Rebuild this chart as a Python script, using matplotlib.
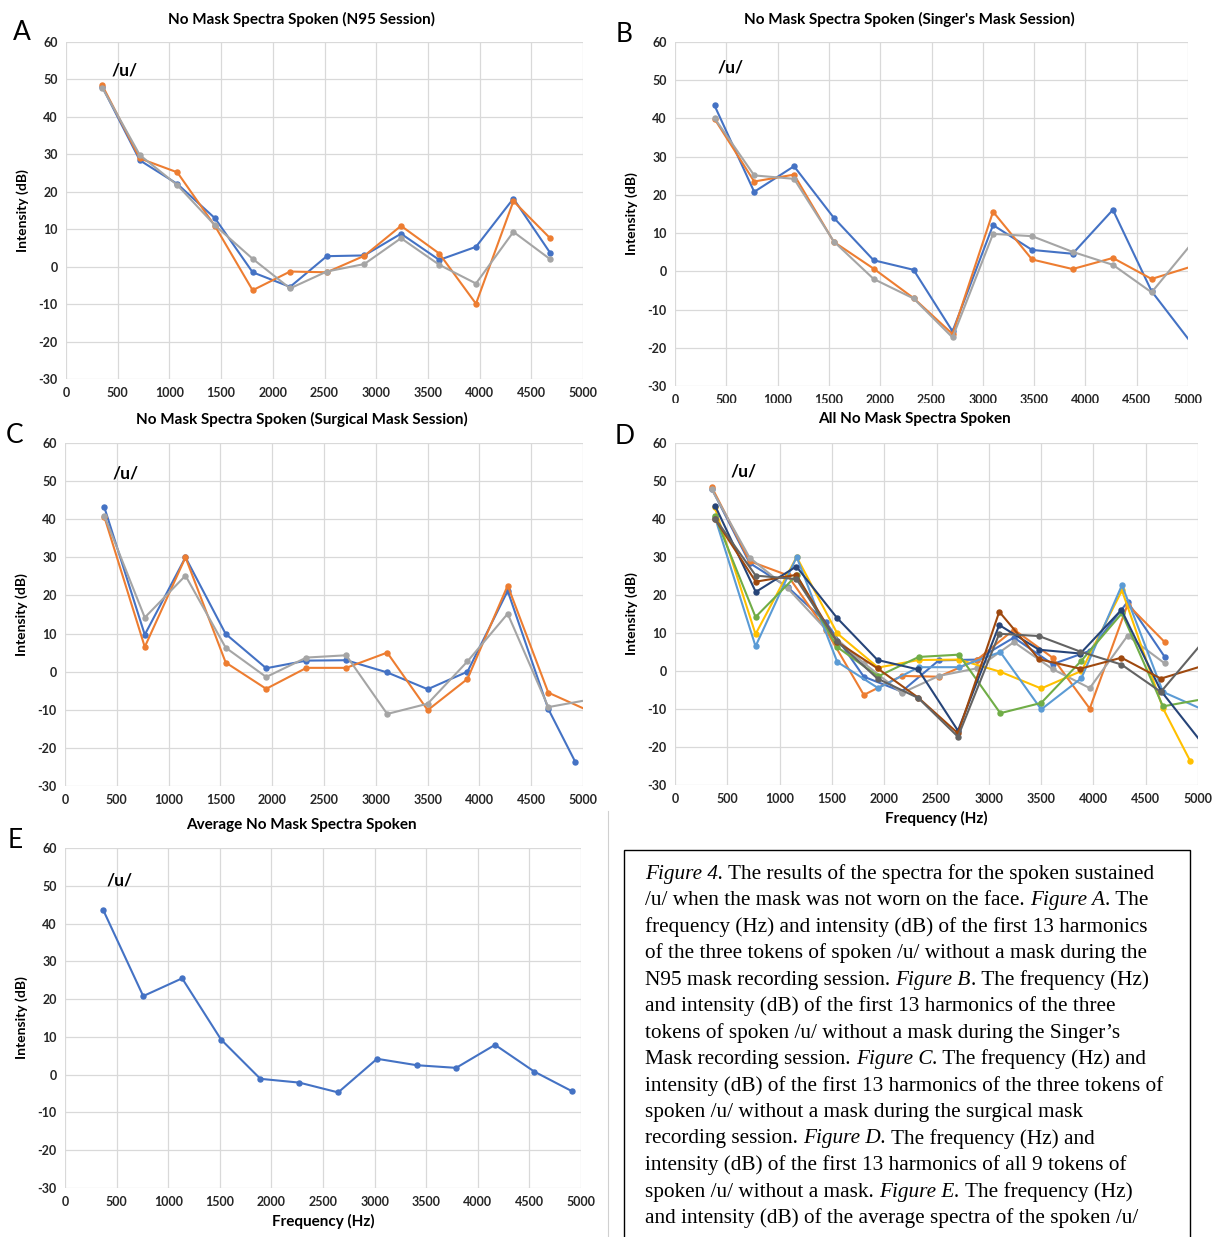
import matplotlib
matplotlib.use("Agg")
import matplotlib.pyplot as plt
from matplotlib.lines import Line2D
from matplotlib.patches import Rectangle

plt.rcParams["axes.unicode_minus"] = False

# harmonic frequencies (Hz) and intensities (dB)
A_freq = [351, 714, 1076, 1442, 1805, 2167, 2522, 2885, 3240, 3610, 3965, 4327, 4682]
A_tok1 = [48.0, 28.4, 22.1, 12.9, -1.5, -5.4, 2.8, 3.0, 8.8, 1.8, 5.3, 18.2, 3.7]
A_tok2 = [48.4, 28.9, 25.2, 10.8, -6.3, -1.3, -1.5, 2.9, 10.9, 3.5, -9.9, 17.5, 7.6]
A_tok3 = [47.8, 29.8, 21.8, 11.0, 2.1, -5.8, -1.3, 0.7, 7.6, 0.5, -4.5, 9.3, 2.0]

B_freq = [385, 772, 1160, 1548, 1936, 2325, 2705, 3100, 3480, 3875, 4268, 4645, 5040]
B_tok1 = [43.4, 20.8, 27.5, 14.0, 2.9, 0.4, -15.7, 12.1, 5.6, 4.6, 16.1, -5.2, -19.0]
B_tok2 = [39.9, 23.5, 25.3, 7.7, 0.7, -7.0, -16.4, 15.6, 3.1, 0.6, 3.5, -2.0, 1.3]
B_tok3 = [40.1, 25.1, 24.2, 7.8, -2.0, -7.1, -17.3, 9.8, 9.2, 5.1, 1.7, -5.5, 7.4]

C_freq = [380, 770, 1163, 1551, 1942, 2330, 2714, 3110, 3501, 3885, 4273, 4665, 5050]
C_freq_tok1 = [380, 770, 1163, 1551, 1942, 2330, 2714, 3110, 3501, 3885, 4273, 4665, 4926]
C_tok1 = [43.1, 9.7, 30.0, 9.9, 0.9, 2.9, 3.0, -0.2, -4.6, 0.0, 21.2, -9.8, -23.7]
C_tok2 = [40.6, 6.5, 30.0, 2.4, -4.5, 1.0, 1.0, 5.0, -10.1, -1.9, 22.6, -5.5, -10.2]
C_tok3 = [40.9, 14.2, 25.2, 6.3, -1.4, 3.7, 4.3, -11.1, -8.4, 2.7, 15.2, -9.3, -7.4]

E_freq = [370, 758, 1135, 1512, 1893, 2270, 2647, 3024, 3409, 3790, 4167, 4548, 4914]
E_avg = [43.6, 20.8, 25.5, 9.3, -1.1, -2.1, -4.7, 4.2, 2.5, 1.8, 7.9, 0.8, -4.4]

xticks = list(range(0, 5001, 500))
yticks = list(range(-30, 61, 10))

blue, orange, gray = "#4472C4", "#ED7D31", "#A5A5A5"
gold, lblue, green = "#FFC000", "#5B9BD5", "#70AD47"
dblue, brown, dgray = "#264478", "#9E480E", "#636363"

W, H = 1212, 1237
fig = plt.figure(figsize=(W / 100, H / 100), dpi=100)
font = "Lato"


def make_ax(left, right, top, bottom, title, tx, ty, letter, lx, ly, ux, uy, xlabel=False):
    ax = fig.add_axes([left / W, 1 - bottom / H, (right - left) / W, (bottom - top) / H])
    ax.set_xlim(0, 5000)
    ax.set_ylim(-30, 60)
    ax.set_xticks(xticks)
    ax.set_yticks(yticks)
    ax.grid(True, color="#D9D9D9", lw=0.9)
    ax.set_axisbelow(True)
    for s in ax.spines.values():
        s.set_visible(False)
    ax.tick_params(length=0, labelsize=9, pad=6)
    for lab in ax.get_xticklabels() + ax.get_yticklabels():
        lab.set_fontweight("bold")
        lab.set_fontfamily(font)
        lab.set_color("#262626")
    ax.set_ylabel("Intensity (dB)", fontsize=10, fontweight="bold", family=font, labelpad=7)
    if xlabel:
        ax.set_xlabel("Frequency (Hz)", fontsize=11, fontweight="bold", family=font, labelpad=4)
    fig.text(tx / W, 1 - ty / H, title, fontsize=11, fontweight="bold", family=font,
             ha="center", va="center")
    ax.text(ux, uy, "/u/", fontsize=12.5, fontweight="bold", family=font, ha="center", va="center")
    fig.text(lx / W, 1 - ly / H, letter, fontsize=19, family=font, ha="center", va="center")
    return ax


def series(ax, x, y, c):
    ax.plot(x, y, color=c, lw=1.5, marker="o", ms=3.6, mec=c, mfc=c)


axA = make_ax(66, 583, 42, 379, "No Mask Spectra Spoken (N95 Session)", 302, 19,
              "A", 22, 33, 570, 52.5)
series(axA, A_freq, A_tok1, blue)
series(axA, A_freq, A_tok2, orange)
series(axA, A_freq, A_tok3, gray)

axB = make_ax(675, 1188, 42, 386, "No Mask Spectra Spoken (Singer's Mask Session)", 909, 19,
              "B", 624, 35, 546, 53.2)
series(axB, B_freq, B_tok1, blue)
series(axB, B_freq, B_tok2, orange)
series(axB, B_freq, B_tok3, gray)

axC = make_ax(65, 583, 443, 786, "No Mask Spectra Spoken (Surgical Mask Session)", 302, 419,
              "C", 15, 435, 580, 52.1)
series(axC, C_freq_tok1, C_tok1, blue)
series(axC, C_freq, C_tok2, orange)
series(axC, C_freq, C_tok3, gray)

axD = make_ax(675, 1198, 443, 785, "All No Mask Spectra Spoken", 914, 419,
              "D", 625, 437, 660, 52.6, xlabel=True)
series(axD, A_freq, A_tok1, blue)
series(axD, A_freq, A_tok2, orange)
series(axD, A_freq, A_tok3, gray)
series(axD, C_freq_tok1, C_tok1, gold)
series(axD, C_freq, C_tok2, lblue)
series(axD, C_freq, C_tok3, green)
series(axD, B_freq, B_tok1, dblue)
series(axD, B_freq, B_tok2, brown)
series(axD, B_freq, B_tok3, dgray)

axE = make_ax(65, 581, 848, 1188, "Average No Mask Spectra Spoken", 301, 825,
              "E", 15, 840, 533, 51.5, xlabel=True)
series(axE, E_freq, E_avg, blue)

# B's tick labels are cut off by the panel below
fig.add_artist(Rectangle((610 / W, 1 - 412 / H), 602 / W, 9 / H, transform=fig.transFigure,
                         facecolor="white", edgecolor="none", zorder=10))

# thin separator and caption box
fig.add_artist(Line2D([608 / W, 608 / W], [0, 1 - 811 / H], transform=fig.transFigure,
                      color="#D0D0D0", lw=0.8))
fig.add_artist(Rectangle((624 / W, -0.01), (1190 - 624) / W, 0.01 + (H - 850) / H,
                         transform=fig.transFigure, facecolor="white", edgecolor="black", lw=1.0))

caption = [
    [("Figure 4.", True), (" The results of the spectra for the spoken sustained", False)],
    [("/u/ when the mask was not worn on the face. ", False), ("Figure A", True), (". The", False)],
    [("frequency (Hz) and intensity (dB) of the first 13 harmonics", False)],
    [("of the three tokens of spoken /u/ without a mask during the", False)],
    [("N95 mask recording session. ", False), ("Figure B", True), (". The frequency (Hz)", False)],
    [("and intensity (dB) of the first 13 harmonics of the three", False)],
    [("tokens of spoken /u/ without a mask during the Singer\u2019s", False)],
    [("Mask recording session. ", False), ("Figure C", True), (". The frequency (Hz) and", False)],
    [("intensity (dB) of the first 13 harmonics of the three tokens of", False)],
    [("spoken /u/ without a mask during the surgical mask", False)],
    [("recording session. ", False), ("Figure D.", True), (" The frequency (Hz) and", False)],
    [("intensity (dB) of the first 13 harmonics of all 9 tokens of", False)],
    [("spoken /u/ without a mask. ", False), ("Figure E.", True), (" The frequency (Hz)", False)],
    [("and intensity (dB) of the average spectra of the spoken /u/", False)],
]

cap_font = "Liberation Serif"
cap_size = 15.3
y0 = 874
step = 26.5
for i, parts in enumerate(caption):
    y = y0 + i * step
    prev = None
    for txt, it in parts:
        style = "italic" if it else "normal"
        if prev is None:
            prev = fig.text(645 / W, 1 - y / H, txt, fontsize=cap_size, family=cap_font,
                            style=style, va="center", ha="left")
        else:
            prev = fig.add_artist(matplotlib.text.Annotation(
                txt, xy=(1, 0.5), xycoords=prev, va="center", ha="left",
                fontsize=cap_size, family=cap_font, style=style))

fig.savefig("out.png", dpi=100)
